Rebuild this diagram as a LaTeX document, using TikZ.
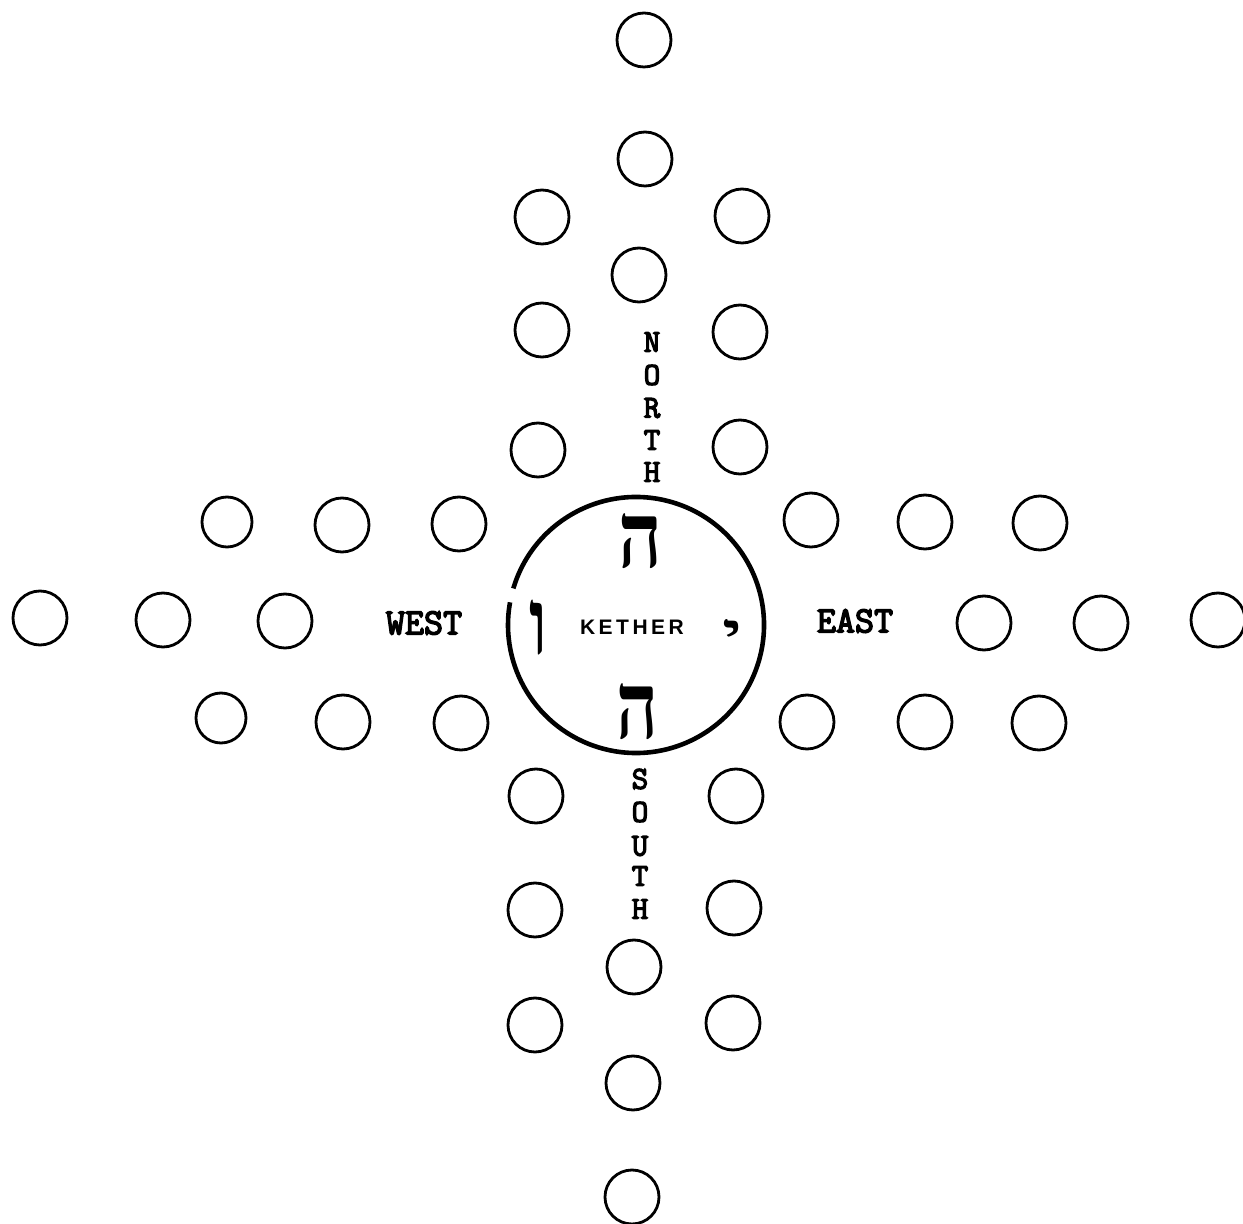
\documentclass[tikz,border=0pt]{standalone}
\usepackage{fontspec}
\usepackage{graphicx}
\newfontfamily\kfont{Liberation Sans}
\newfontfamily\heb[Script=Hebrew]{Liberation Serif}
\newfontfamily\cfont[FakeBold=4]{Latin Modern Mono}
\tikzset{
  ring/.style={draw=black, circle, line width=1.4pt, minimum size=27pt, inner sep=0pt},
  smallring/.style={ring, minimum size=25pt},
  compass/.style={font={\cfont\fontsize{18.5}{20}\selectfont}, inner sep=0pt},
  vletter/.style={font={\cfont\fontsize{16}{16}\selectfont}, inner sep=0pt},
  hebl/.style={inner sep=0pt, font=\heb\bfseries},
}
\begin{document}
\begin{tikzpicture}[x=0.5pt, y=-0.5pt]
\fill[white] (0,0) rectangle (1243,1224);
\useasboundingbox (0,0) rectangle (1243,1224);
% small circles
\foreach \x/\y/\n in {
  644/40/t1, 645/159/t2, 639/275/t3,
  542/217/ula, 542/330/ulb, 538/450/ulc,
  742/216/ura, 740/332/urb, 740/447/urc,
  342/525/lub, 459/524/luc,
  40/618/lma, 163/620/lmb, 285/621/lmc,
  343/722/llb, 461/723/llc,
  811/520/rua, 925/522/rub, 1040/523/ruc,
  984/623/rma, 1101/623/rmb, 1218/620/rmc,
  807/722/rla, 925/722/rlb, 1039/723/rlc,
  536/796/dla, 535/910/dlb, 535/1025/dlc,
  736/796/dra, 734/908/drb, 733/1023/drc,
  634/967/b1, 633/1083/b2, 632/1197/b3}
  \node[ring] (\n) at (\x,\y) {};
\node[smallring] (lua) at (227,522) {};
\node[smallring] (lla) at (221,718) {};
% central circle with small gap on the left
\coordinate (kc) at (636,625);
\draw[line width=2.3pt] (kc) ++(196.6:128) arc[start angle=196.6, end angle=550.2, radius=128];
% Hebrew letters
\node[hebl] (heTop) at (640,541) {\resizebox*{22pt}{27.5pt}{ה}};
\node[hebl] (vav) at (538,628) {\resizebox*{9pt}{27.5pt}{ו}};
\node[hebl] (yod) at (732,634) {\resizebox*{10pt}{14.5pt}{י}};
\node[hebl] (heBot) at (637,712) {\resizebox*{21pt}{28pt}{ה}};
% labels
\node[font={\kfont\bfseries\fontsize{10.5}{12}\selectfont}, inner sep=0pt] (kether) at (632,627)
  {K\kern1.75pt E\kern1.75pt T\kern1.75pt H\kern1.75pt E\kern1.75pt R};
\foreach \l/\y/\n in {N/342/n1, O/375/n2, R/408/n3, T/440/n4, H/472/n5}
  \node[vletter] (\n) at (652,\y) {\l};
\foreach \l/\y/\n in {S/779/s1, O/812/s2, U/846/s3, T/876/s4, H/909/s5}
  \node[vletter] (\n) at (640,\y) {\l};
\node[compass] (west) at (424,623) {WEST};
\node[compass] (east) at (855,621) {EAST};
\end{tikzpicture}
\end{document}
